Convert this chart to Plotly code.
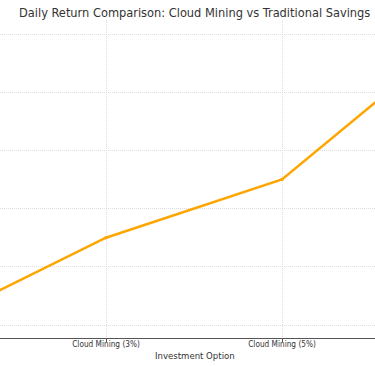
import plotly.graph_objects as go

categories = ["Traditional Savings", "Cloud Mining (3%)", "Cloud Mining (5%)", "Cloud Mining (10%)"]
daily_return = [0.1, 30, 50, 100]
y_ticks = [0, 20, 40, 60, 80, 100]

W, H = 375, 366
top, bottom = 20, 338
FONT = "DejaVu Sans Condensed, DejaVu Sans"

fig = go.Figure()
fig.add_trace(go.Scatter(
    x=categories, y=daily_return, mode="lines+markers",
    line=dict(color="#FFA500", width=2.5),
    marker=dict(color="#FFA500", size=3.5),
    showlegend=False,
))

fig.update_layout(
    width=W, height=H,
    margin=dict(l=0, r=0, t=top, b=H - bottom),
    paper_bgcolor="white", plot_bgcolor="white",
    font=dict(family=FONT, color="#333333"),
    xaxis=dict(
        type="category", categoryorder="array", categoryarray=categories,
        range=[1 - 106 / 176, 2 + 93 / 176],
        showgrid=True, gridcolor="#dddddd", griddash="1px,1px", gridwidth=1,
        showline=True, linecolor="#555555", linewidth=1,
        ticks="outside", ticklen=2.5, tickcolor="#555555", tickwidth=1,
        tickfont=dict(size=8.2, color="#333333", family=FONT),
        ticklabelstandoff=-4,
        zeroline=False,
    ),
    yaxis=dict(
        range=[-(bottom - 325) / 2.91, 100 + (34 - top) / 2.91],
        tickvals=y_ticks, showticklabels=False,
        showgrid=True, gridcolor="#dddddd", griddash="1px,1px", gridwidth=1,
        zeroline=False, showline=False,
    ),
    annotations=[
        dict(
            text="Daily Return Comparison: Cloud Mining vs Traditional Savings",
            xref="paper", yref="paper",
            x=194.5 / W, y=1 + (top - 12) / (bottom - top),
            xanchor="center", yanchor="middle", showarrow=False,
            font=dict(size=12.7, color="#333333", family=FONT),
        ),
        dict(
            text="Investment Option", xref="paper", yref="paper",
            x=194.5 / W, y=(bottom - 355) / (bottom - top),
            xanchor="center", yanchor="middle", showarrow=False,
            font=dict(size=9.5, color="#333333", family=FONT),
        ),
    ],
)

fig.write_html("out.html", config={"displayModeBar": False},
               post_script="document.body.style.margin='0';")
